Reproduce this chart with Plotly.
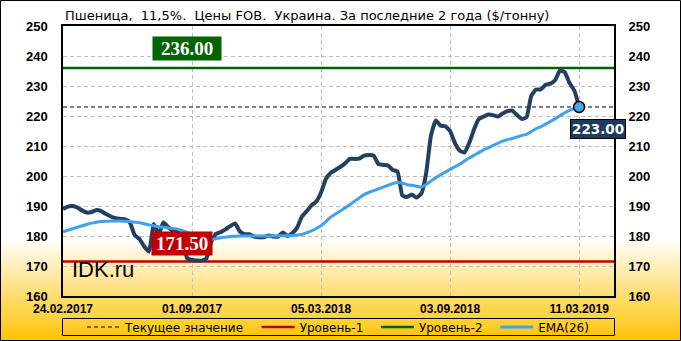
import plotly.graph_objects as go

# ---------------- data ----------------
title_text = "Пшеница,  11,5%.  Цены FOB.  Украина. За последние 2 года ($/тонну)"
tick_labels = ["24.02.2017", "01.09.2017", "05.03.2018", "03.09.2018", "11.03.2019"]
tick_index = [0, 27, 54, 81, 108]

price = [
    189.0, 189.8, 190.0, 189.5, 188.5, 187.8, 188.0, 188.7, 188.3, 187.3,
    186.5, 185.9, 185.7, 185.5, 184.5, 180.3, 179.0, 176.5, 174.8, 184.0,
    180.5, 184.5, 183.0, 181.5, 181.3, 178.0, 172.5, 172.0, 171.8, 171.8,
    172.5, 178.0, 180.7, 181.3, 182.2, 183.3, 184.2, 181.5, 180.6, 180.6,
    179.8, 179.6, 179.6, 180.2, 179.8, 179.8, 181.2, 180.0, 181.0, 182.8,
    186.5, 188.3, 190.2, 191.5, 194.5, 199.0, 201.0, 202.0, 203.0, 204.2,
    205.7, 205.7, 205.8, 206.8, 207.0, 206.8, 204.0, 203.7, 203.5, 202.0,
    201.5, 193.5, 193.0, 193.8, 192.8, 194.2, 201.0, 213.5, 218.5, 216.8,
    216.6, 215.0, 211.0, 208.5, 207.8, 211.0, 215.5, 219.0, 219.8, 220.5,
    220.3, 219.8, 220.8, 221.6, 221.8, 220.3, 219.0, 219.6, 226.8, 228.8,
    228.9, 230.4, 230.8, 232.0, 235.2, 234.6, 231.0, 228.5, 223.0,
]

ema26 = [
    181.4, 181.9, 182.4, 182.9, 183.4, 183.9, 184.3, 184.6, 184.8, 184.9,
    185.0, 185.0, 185.0, 184.9, 184.8, 184.6, 184.4, 184.1, 183.7, 183.4,
    183.1, 182.9, 182.7, 182.5, 182.3, 181.8, 181.2, 180.6, 179.9, 179.3,
    178.9, 178.9, 179.1, 179.4, 179.6, 179.8, 179.9, 180.0, 180.0, 180.0,
    180.0, 180.0, 180.0, 180.0, 180.0, 180.0, 180.1, 180.1, 180.2, 180.3,
    180.5, 181.1, 181.7, 182.5, 183.4, 184.8, 186.3, 187.3, 188.3, 189.3,
    190.4, 191.6, 192.7, 193.8, 194.5, 195.1, 195.7, 196.3, 196.9, 197.5,
    197.8, 197.6, 197.1, 196.9, 196.6, 196.3, 197.2, 198.3, 199.4, 200.4,
    201.3, 202.2, 203.1, 203.9, 205.0, 206.0, 206.9, 207.8, 208.7, 209.4,
    210.2, 210.9, 211.6, 212.1, 212.5, 213.0, 213.5, 213.9, 214.8, 215.8,
    216.4, 217.3, 218.2, 219.1, 220.1, 221.1, 221.9, 222.5, 223.0,
]

level1 = 171.5
level2 = 236.0
current_value = 223.0
y_range = [160, 250]
y_ticks = [160, 170, 180, 190, 200, 210, 220, 230, 240, 250]
x_max = 115.3

legend_names = ["Текущее значение", "Уровень-1", "Уровень-2", "EMA(26)"]

# ---------------- geometry / style ----------------
W, H = 681, 341
ML, MR, MT, MB = 63, 67, 26, 45
PW, PH = W - ML - MR, H - MT - MB


def px_x(px):
    return (px - ML) / PW


def px_y(py):
    return (H - MB - py) / PH


NAVY = "#243F60"
BLUE = "#3FA2F0"
GREEN = "#006400"
RED = "#C00000"
TICK_FONT = "Liberation Sans"
PAD = "\u00a0\u00a0"

x_idx = list(range(len(price)))

fig = go.Figure()

fig.add_trace(go.Scatter(
    x=[0, x_max], y=[current_value, current_value], mode="lines",
    line=dict(color="black", width=1, dash="4px,3px"),
    name=legend_names[0] + PAD, hoverinfo="skip"))
fig.add_trace(go.Scatter(
    x=[0, x_max], y=[level1, level1], mode="lines",
    line=dict(color=RED, width=2.5),
    name=legend_names[1] + PAD, hoverinfo="skip"))
fig.add_trace(go.Scatter(
    x=[0, x_max], y=[level2, level2], mode="lines",
    line=dict(color=GREEN, width=2.5),
    name=legend_names[2] + PAD, hoverinfo="skip"))
fig.add_trace(go.Scatter(
    x=x_idx, y=price, mode="lines",
    line=dict(color=NAVY, width=4, shape="spline", smoothing=0.4),
    showlegend=False, name="price"))
fig.add_trace(go.Scatter(
    x=x_idx, y=ema26, mode="lines",
    line=dict(color=BLUE, width=3, shape="spline", smoothing=0.6),
    name=legend_names[3]))
fig.add_trace(go.Scatter(
    x=[x_idx[-1]], y=[price[-1]], mode="markers",
    marker=dict(size=11, color="#4AA8E8", line=dict(color="black", width=1.5)),
    showlegend=False, cliponaxis=False))

# right axis dummy trace (invisible)
fig.add_trace(go.Scatter(x=[0], y=[y_range[0]], yaxis="y2", mode="markers",
                         marker=dict(opacity=0), showlegend=False, hoverinfo="skip"))

shapes = []
# gradient background bands
g_top, g_bot = 238, H
n = 52
for i in range(n):
    y0 = g_top + (g_bot - g_top) * i / n
    y1 = g_top + (g_bot - g_top) * (i + 1) / n + 0.6
    t = (i + 0.5) / n
    r = 255
    g = round(255 - (255 - 194) * t)
    b = round(255 - 255 * t)
    shapes.append(dict(type="rect", xref="paper", yref="paper", layer="below",
                       x0=px_x(-1), x1=px_x(W + 1), y0=px_y(y1), y1=px_y(y0),
                       line=dict(width=0), fillcolor=f"rgb({r},{g},{b})"))
# outer frame
shapes.append(dict(type="rect", xref="paper", yref="paper", layer="above",
                   x0=px_x(0.5), x1=px_x(W - 0.5), y0=px_y(H - 0.5), y1=px_y(0.5),
                   line=dict(color="black", width=1)))
# legend frame
shapes.append(dict(type="rect", xref="paper", yref="paper", layer="above",
                   x0=px_x(62.5), x1=px_x(614.5), y0=px_y(335.5), y1=px_y(318.5),
                   line=dict(color="black", width=1)))

annotations = [
    dict(x=26, y=level2, xref="x", yref="y", text=f"<b>{level2:.2f}</b>",
         showarrow=False, yanchor="bottom", yshift=7, width=64, height=19,
         font=dict(family="Liberation Serif", size=19, color="white"),
         bgcolor=GREEN, borderpad=2),
    dict(x=25, y=level1, xref="x", yref="y", text=f"<b>{level1:.2f}</b>",
         showarrow=False, yanchor="bottom", yshift=6, width=56, height=19,
         font=dict(family="Liberation Serif", size=19, color="white"),
         bgcolor=RED, borderpad=2),
    dict(x=x_idx[-1], y=price[-1], xref="x", yref="y", text=f"<b>{price[-1]:.2f}</b>",
         showarrow=False, yanchor="top", yshift=-12, xshift=19,
         font=dict(family="DejaVu Sans", size=13.5, color="white"),
         bgcolor="#1F3A5F", bordercolor="black", borderwidth=1, borderpad=1),
    dict(x=px_x(70), y=px_y(269), xref="paper", yref="paper", text="IDK.ru",
         showarrow=False, xanchor="left", yanchor="middle",
         font=dict(family="Liberation Sans", size=22, color="black")),
]

fig.update_layout(
    width=W, height=H,
    margin=dict(l=ML, r=MR, t=MT, b=MB, pad=0, autoexpand=False),
    paper_bgcolor="white", plot_bgcolor="rgba(0,0,0,0)",
    title=dict(text=title_text, x=65 / W, xref="container", xanchor="left",
               y=1 - 15 / H, yref="container", yanchor="middle",
               font=dict(family="DejaVu Sans", size=13, color="black")),
    xaxis=dict(range=[0, x_max], tickmode="array", tickvals=tick_index, ticktext=tick_labels,
               showgrid=True, gridcolor="#BFBFBF", griddash="4px,3px", gridwidth=1,
               showline=True, linecolor="black", linewidth=1.5, mirror=True,
               ticks="outside", ticklen=1, tickcolor="rgba(0,0,0,0)", zeroline=False,
               automargin=False,
               tickfont=dict(family=TICK_FONT, size=12, color="black", weight="bold")),
    yaxis=dict(range=y_range, tickvals=y_ticks, showgrid=True, gridcolor="#BFBFBF",
               griddash="4px,3px", gridwidth=1, showline=True, linecolor="black",
               linewidth=1.5, mirror=True, ticks="outside", ticklen=11, tickcolor="rgba(0,0,0,0)",
               zeroline=False, automargin=False,
               tickfont=dict(family=TICK_FONT, size=13, color="black", weight="bold")),
    yaxis2=dict(range=y_range, tickvals=y_ticks, overlaying="y", side="right",
                showgrid=False, showline=False, zeroline=False, automargin=False,
                ticks="outside", ticklen=11, tickcolor="rgba(0,0,0,0)",
                tickfont=dict(family=TICK_FONT, size=13, color="black", weight="bold")),
    legend=dict(orientation="h", x=px_x(338), xanchor="center", y=px_y(327), yanchor="middle",
                bgcolor="rgba(0,0,0,0)", borderwidth=0,
                font=dict(family="DejaVu Sans", size=12, color="black"),
                itemwidth=33, traceorder="normal"),
    shapes=shapes,
    annotations=annotations,
    showlegend=True,
)

fig.write_html("out.html")
